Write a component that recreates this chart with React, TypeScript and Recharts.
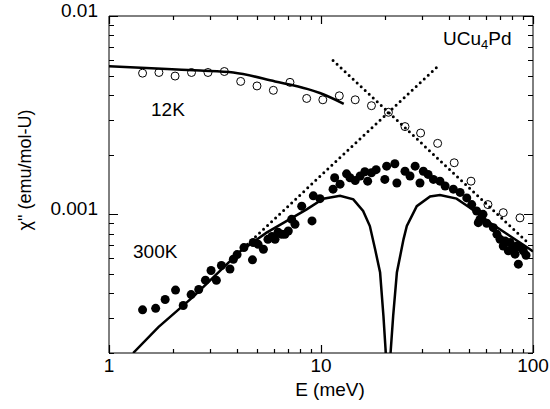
// Log-log plot of chi'' vs E for UCu4Pd at 12K and 300K

import {
  ComposedChart,
  XAxis,
  YAxis,
  Line,
  Scatter,
  ReferenceLine,
  Customized,
} from "recharts";

const FONT = "'Liberation Sans', Arial, Helvetica, sans-serif";
const PLOT_TOP = 16;
const PLOT_RIGHT = 533;

// tick values
const xTicks = [1, 2, 3, 4, 5, 6, 7, 8, 9, 10, 20, 30, 40, 50, 60, 70, 80, 90, 100];
const yTicks = [
  0.0002, 0.0003, 0.0004, 0.0005, 0.0006, 0.0007, 0.0008, 0.0009, 0.001,
  0.002, 0.003, 0.004, 0.005, 0.006, 0.007, 0.008, 0.009, 0.01,
];

// 12K open circles
const e12 = [1.44, 1.72, 2.05, 2.45, 2.93, 3.5, 4.18, 4.99, 5.96, 7.14, 8.56, 10.2, 12.2, 14.5, 17.3, 20.8, 24.9, 29.5, 35.5, 42.5, 51.0, 61.3, 72.4, 86.8];
const chi12 = [0.00515, 0.00519, 0.00498, 0.00519, 0.00519, 0.00525, 0.00468, 0.00444, 0.00422, 0.00463, 0.00384, 0.00378, 0.00396, 0.00378, 0.00353, 0.00327, 0.00277, 0.00257, 0.00228, 0.00182, 0.00147, 0.00112, 0.00102, 0.00096];

// 300K filled circles
const e300 = [
  1.44, 1.66, 1.84, 2.06, 2.24, 2.44, 2.65, 2.85, 3.03, 3.21, 3.39, 3.72, 3.86, 4.02, 4.33, 4.75, 4.79, 5.05, 5.35, 5.62,
  5.87, 6.07, 6.27, 6.53, 6.76, 7.01, 7.27, 7.54, 8.11, 9.07, 9.2, 9.89, 11.4, 11.6, 12.3, 13.2, 13.7, 14.5, 15.3, 16.1,
  16.6, 17.3, 18.2, 20.0, 20.4, 22.3, 22.8, 24.9, 26.3, 27.8, 29.3, 30.4, 32.0, 33.9, 36.4, 38.5, 42.1, 45.3, 48.7, 51.4,
  54.2, 55.2, 56.2, 58.1, 60.5, 65.0, 67.6, 69.9, 72.4, 73.8, 76.5, 77.9, 79.6, 82.3, 83.8, 85.3, 86.8, 90.0, 92.7,
];
const chi300 = [
  0.00033, 0.000336, 0.000372, 0.000415, 0.000347, 0.000394, 0.000418, 0.000466, 0.000521, 0.000465, 0.000552, 0.00053, 0.000594, 0.000627, 0.00068, 0.00059, 0.000721, 0.000706, 0.000667, 0.000748,
  0.000774, 0.000748, 0.000812, 0.000793, 0.000793, 0.000824, 0.000944, 0.000891, 0.0011, 0.000927, 0.00124, 0.0012, 0.00134, 0.00153, 0.00142, 0.0016, 0.00153, 0.00148, 0.00156, 0.00164,
  0.00147, 0.00162, 0.00168, 0.0015, 0.00175, 0.0018, 0.00144, 0.00165, 0.00156, 0.00175, 0.00144, 0.00165, 0.00159, 0.0015, 0.00147, 0.00139, 0.00134, 0.00129, 0.00121, 0.00112,
  0.00104, 0.000908, 0.000944, 0.001, 0.000902, 0.000857, 0.000793, 0.000748, 0.000693, 0.000735, 0.000655, 0.000721, 0.000667, 0.00063, 0.000693, 0.000561, 0.000683, 0.000655, 0.000622,
];

// 12K fit curve
const eFit12 = [1, 1.88, 2.69, 3.86, 6.07, 8.68, 9.88, 12.8];
const chiFit12 = [0.00558, 0.0054, 0.00531, 0.00519, 0.00468, 0.00428, 0.00409, 0.00361];

// 300K fit curve (dips to zero near 20 meV)
const eFit300 = [1.3, 1.71, 2.5, 4.15, 5.54, 8.56, 10.25, 12.3, 14.2, 15.8, 17.0, 18.0, 19.0, 19.7, 20.2, 20.7, 21.3, 21.9, 22.8, 24.5, 25.4, 28.3, 32.7, 36.4, 43.6, 50.4, 62.7, 77.9, 96.8, 100];
const chiFit300 = [0.0002, 0.00027, 0.000385, 0.00065, 0.000809, 0.00106, 0.0012, 0.00124, 0.00119, 0.00104, 0.000873, 0.000667, 0.000509, 0.000308, 0.000202, 0.00003, 0.000202, 0.000308, 0.000509, 0.000748, 0.000873, 0.0011, 0.00123, 0.00125, 0.0012, 0.00108, 0.000908, 0.000778, 0.000667, 0.00065];

// dotted guide lines
const eRise = [4.5, 35.8];
const chiRise = [0.000707, 0.00562];
const eFall = [11.4, 95];
const chiFall = [0.00597, 0.000716];

const zip = (e: number[], c: number[]) => e.map((v, i) => ({ e: v, chi: c[i] }));

const open12 = zip(e12, chi12);
const filled300 = zip(e300, chi300);
const fit12 = zip(eFit12, chiFit12);
const fit300 = zip(eFit300, chiFit300);
const rise = zip(eRise, chiRise);
const fall = zip(eFall, chiFall);

const isDecade = (v: number) =>
  Math.abs(Math.log10(v) - Math.round(Math.log10(v))) < 1e-9;

// tick labels only on decades
function renderXLabel(props: any) {
  const { x, y, payload } = props;
  const v = payload.value;
  if (!isDecade(v)) return <g />;
  return (
    <text x={x} y={Number(y) + 19} textAnchor="middle" fontSize={19} fontFamily={FONT} fill="#000">
      {v}
    </text>
  );
}

function renderYLabel(props: any) {
  const { x, y, payload } = props;
  const v = payload.value;
  if (!isDecade(v)) return <g />;
  return (
    <text x={Number(x) - 11} y={Number(y) + 1} textAnchor="end" fontSize={19} fontFamily={FONT} fill="#000">
      {String(v)}
    </text>
  );
}

// inward tick marks at both ends of a full-height / full-width reference line
const xMark = (len: number) => (p: any) => {
  const x = Math.round(Number(p.x1)) + 0.5;
  const top = Math.min(p.y1, p.y2);
  const bot = Math.max(p.y1, p.y2);
  return (
    <path d={`M${x},${bot}V${bot - len}M${x},${top}V${top + len}`} stroke="#000" strokeWidth={1.2} fill="none" />
  );
};

const yMark = (len: number) => (p: any) => {
  const y = Math.round(Number(p.y1)) + 0.5;
  const l = Math.min(p.x1, p.x2);
  const r = Math.max(p.x1, p.x2);
  return (
    <path d={`M${l},${y}H${l + len}M${r},${y}H${r - len}`} stroke="#000" strokeWidth={1.2} fill="none" />
  );
};

const OpenDot = (p: any) => (
  <circle cx={p.cx} cy={p.cy} r={4} fill="none" stroke="#000" strokeWidth={1} />
);
const FilledDot = (p: any) => <circle cx={p.cx} cy={p.cy} r={4.5} fill="#000" />;

function Annotations() {
  return (
    <g fontFamily={FONT} fill="#000">
      <text x={151} y={116} fontSize={19}>12K</text>
      <text x={133} y={258} fontSize={19}>300K</text>
      <text x={443} y={45} fontSize={19}>
        UCu<tspan fontSize={13} dy={4}>4</tspan>
        <tspan dy={-4}>Pd</tspan>
      </text>
      <text x={330} y={396} fontSize={19} textAnchor="middle">E (meV)</text>
      <text
        x={0}
        y={0}
        fontSize={18}
        textAnchor="middle"
        transform="translate(31,170) rotate(-90)"
      >
        {'\u03c7" (emu/mol-U)'}
      </text>
    </g>
  );
}

export default function App() {
  return (
    <div style={{ position: "absolute", left: 0, top: 0, background: "#fff" }}>
      <ComposedChart
        width={550}
        height={409}
        margin={{ top: PLOT_TOP, right: 550 - PLOT_RIGHT, bottom: 0, left: 0 }}
      >
        <XAxis
          dataKey="e"
          type="number"
          scale="log"
          domain={[1, 100]}
          allowDataOverflow
          ticks={xTicks}
          interval={0}
          tick={renderXLabel}
          tickLine={false}
          tickSize={0}
          tickMargin={0}
          height={56}
          axisLine={{ stroke: "#000", strokeWidth: 1 }}
        />
        <YAxis
          dataKey="chi"
          type="number"
          scale="log"
          domain={[0.0002, 0.01]}
          allowDataOverflow
          ticks={yTicks}
          interval={0}
          tick={renderYLabel}
          tickLine={false}
          tickSize={0}
          tickMargin={0}
          width={109}
          axisLine={{ stroke: "#000", strokeWidth: 1 }}
        />
        <ReferenceLine y={0.01} stroke="#000" strokeWidth={1} />
        <ReferenceLine x={100} stroke="#000" strokeWidth={1} />
        {xTicks.map((v) => (
          <ReferenceLine key={`xm-${v}`} x={v} shape={xMark(isDecade(v) ? 8 : 4)} />
        ))}
        {yTicks.map((v) => (
          <ReferenceLine key={`ym-${v}`} y={v} shape={yMark(isDecade(v) ? 9 : 5)} />
        ))}
        <Line
          data={rise}
          dataKey="chi"
          type="linear"
          stroke="#000"
          strokeWidth={3}
          strokeDasharray="0 5.5"
          strokeLinecap="round"
          dot={false}
          isAnimationActive={false}
        />
        <Line
          data={fall}
          dataKey="chi"
          type="linear"
          stroke="#000"
          strokeWidth={3}
          strokeDasharray="0 5.5"
          strokeLinecap="round"
          dot={false}
          isAnimationActive={false}
        />
        <Line
          data={fit12}
          dataKey="chi"
          type="monotone"
          stroke="#000"
          strokeWidth={2.5}
          dot={false}
          isAnimationActive={false}
        />
        <Line
          data={fit300}
          dataKey="chi"
          type="linear"
          stroke="#000"
          strokeWidth={2.5}
          dot={false}
          isAnimationActive={false}
        />
        <Scatter data={open12} dataKey="chi" shape={OpenDot} isAnimationActive={false} />
        <Scatter data={filled300} dataKey="chi" shape={FilledDot} isAnimationActive={false} />
        <Customized component={Annotations} />
      </ComposedChart>
    </div>
  );
}
